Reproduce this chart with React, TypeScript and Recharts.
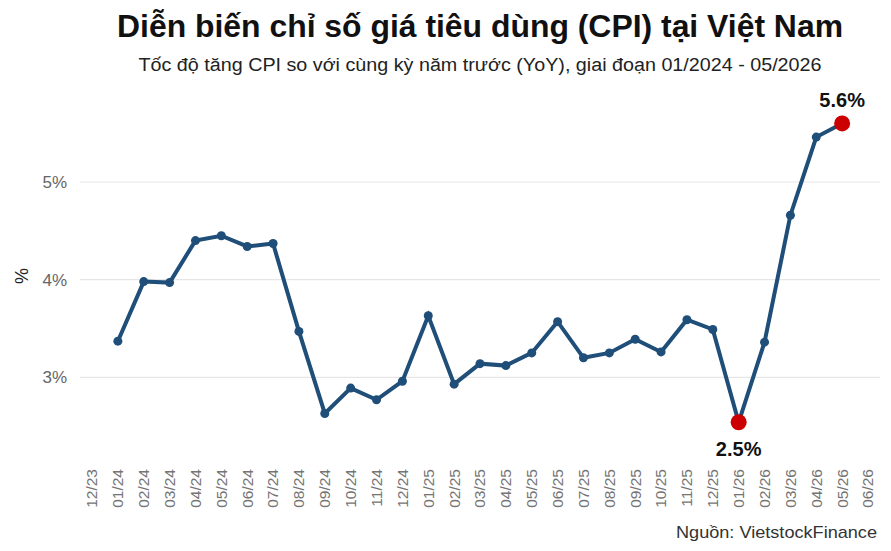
import React from 'react';
import { LineChart, Line, XAxis, YAxis, ReferenceLine } from 'recharts';

// Tick labels of the x axis (month/year), first and last have no value
const MONTHS = [
  '12/23', '01/24', '02/24', '03/24', '04/24', '05/24', '06/24', '07/24',
  '08/24', '09/24', '10/24', '11/24', '12/24', '01/25', '02/25', '03/25',
  '04/25', '05/25', '06/25', '07/25', '08/25', '09/25', '10/25', '11/25',
  '12/25', '01/26', '02/26', '03/26', '04/26', '05/26', '06/26',
];

// CPI YoY, %
const CPI: (number | null)[] = [
  null, 3.37, 3.98, 3.97, 4.4, 4.45, 4.34, 4.37, 3.47, 2.63, 2.89, 2.77,
  2.96, 3.63, 2.93, 3.14, 3.12, 3.25, 3.57, 3.2, 3.25, 3.39, 3.26, 3.59,
  3.49, 2.54, 3.36, 4.66, 5.46, 5.6, null,
];

const Y_TICKS = [3, 4, 5];
const Y_DOMAIN: [number, number] = [2.133, 5.942];
const X_DOMAIN: [number, number] = [-0.464, MONTHS.length - 1 + 0.464];

const TITLE = 'Diễn biến chỉ số giá tiêu dùng (CPI) tại Việt Nam';
const SUBTITLE =
  'Tốc độ tăng CPI so với cùng kỳ năm trước (YoY), giai đoạn 01/2024 - 05/2026';
const SOURCE = 'Nguồn: VietstockFinance';

const LINE_COLOR = '#1F4E79';
const HIGHLIGHT = '#CC0000';
const GRID = '#e6e6e6';
const FONT = '"Liberation Sans", Arial, sans-serif';

const data = MONTHS.map((m, i) => ({ i, month: m, cpi: CPI[i] }));

const values = CPI.filter((v): v is number => v != null);
const minIdx = CPI.indexOf(Math.min(...values));
const maxIdx = CPI.indexOf(Math.max(...values));

const MonthTick = (props: any) => {
  const { x, y, payload } = props;
  return (
    <text
      x={x}
      y={y}
      transform={`rotate(-90, ${x}, ${y})`}
      textAnchor="end"
      dy="0.35em"
      fontSize={15.5}
      fontFamily={FONT}
      fill="#747474"
    >
      {MONTHS[payload.value]}
    </text>
  );
};

const renderDot = (props: any) => {
  const { cx, cy, index } = props;
  if (cx == null || cy == null) return <g key={`dot-${index}`} />;
  const isMark = index === minIdx || index === maxIdx;
  return (
    <circle
      key={`dot-${index}`}
      cx={cx}
      cy={cy}
      r={isMark ? 8 : 4.5}
      fill={isMark ? HIGHLIGHT : LINE_COLOR}
    />
  );
};

const renderLabel = (props: any) => {
  const { x, y, index, value } = props;
  if (index !== minIdx && index !== maxIdx) return null;
  // max above the point, min below it
  const dy = index === maxIdx ? -24 : 27;
  return (
    <text
      key={`lbl-${index}`}
      x={x}
      y={y + dy}
      dy="0.36em"
      textAnchor="middle"
      fontSize={20}
      fontWeight="bold"
      fontFamily={FONT}
      fill="#111"
    >
      {`${Number(value).toFixed(1)}%`}
    </text>
  );
};

export default function App() {
  return (
    <div
      style={{
        position: 'absolute',
        left: 0,
        top: 0,
        width: 891,
        height: 551,
        background: '#fff',
      }}
    >
      <LineChart
        width={891}
        height={551}
        data={data}
        margin={{ top: 90, right: 11, bottom: 0, left: 0 }}
      >
        <XAxis
          dataKey="i"
          type="number"
          domain={X_DOMAIN}
          ticks={MONTHS.map((_, i) => i)}
          interval={0}
          height={89}
          axisLine={false}
          tickLine={false}
          tickSize={0}
          tickMargin={7}
          tick={<MonthTick />}
        />
        <YAxis
          width={80}
          domain={Y_DOMAIN}
          ticks={Y_TICKS}
          axisLine={false}
          tickLine={false}
          tickSize={0}
          tickMargin={13}
          tickFormatter={(v) => `${v}%`}
          tick={{ fontSize: 17, fill: '#666', fontFamily: FONT }}
          label={{
            value: '%',
            angle: -90,
            position: 'center',
            dx: -18,
            fontSize: 18,
            fill: '#222',
            fontFamily: FONT,
          }}
        />
        {Y_TICKS.map((t) => (
          <ReferenceLine key={t} y={t} stroke={GRID} strokeWidth={1.2} />
        ))}
        <Line
          dataKey="cpi"
          stroke={LINE_COLOR}
          strokeWidth={4}
          dot={renderDot}
          activeDot={false}
          label={renderLabel}
          isAnimationActive={false}
        />
      </LineChart>
      <svg
        width={891}
        height={551}
        style={{ position: 'absolute', left: 0, top: 0, pointerEvents: 'none' }}
      >
        <text
          x={480}
          y={37}
          textAnchor="middle"
          fontSize={32}
          fontWeight="bold"
          fontFamily={FONT}
          fill="#111"
          textLength={726}
          lengthAdjust="spacingAndGlyphs"
        >
          {TITLE}
        </text>
        <text
          x={480}
          y={71}
          textAnchor="middle"
          fontSize={18}
          fontFamily={FONT}
          fill="#222"
          textLength={683}
          lengthAdjust="spacingAndGlyphs"
        >
          {SUBTITLE}
        </text>
        <text
          x={877}
          y={538}
          textAnchor="end"
          fontSize={17}
          fontFamily={FONT}
          fill="#333"
          textLength={201}
          lengthAdjust="spacingAndGlyphs"
        >
          {SOURCE}
        </text>
      </svg>
    </div>
  );
}
